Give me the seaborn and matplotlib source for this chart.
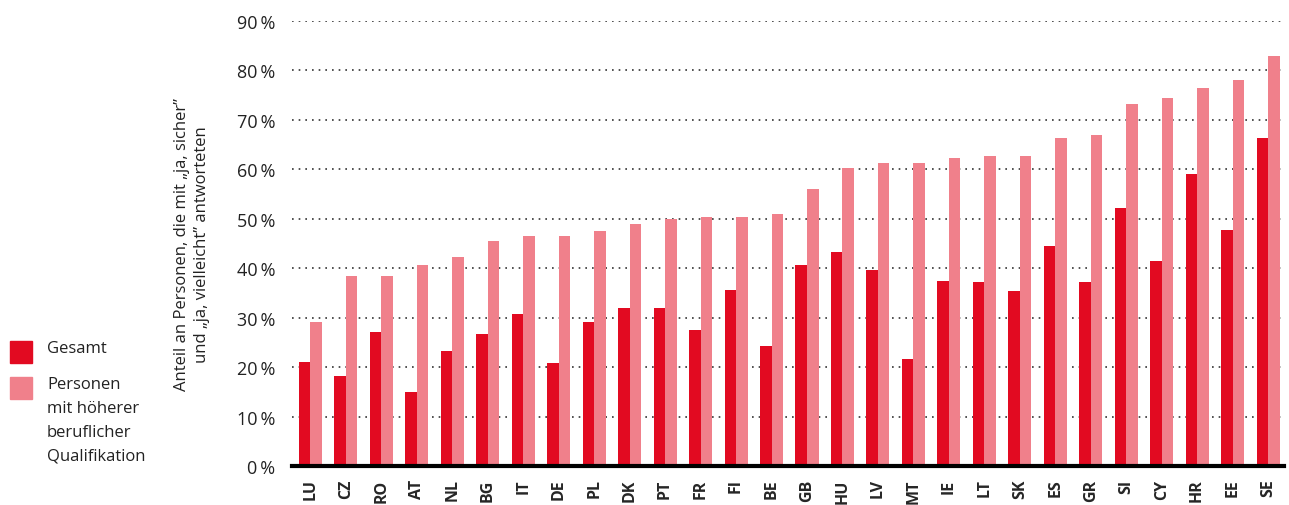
import numpy as np
import pandas as pd
import matplotlib.pyplot as plt
import matplotlib.patches as mpatches
import seaborn as sns

countries = ["LU", "CZ", "RO", "AT", "NL", "BG", "IT", "DE", "PL", "DK", "PT", "FR", "FI", "BE",
             "GB", "HU", "LV", "MT", "IE", "LT", "SK", "ES", "GR", "SI", "CY", "HR", "EE", "SE"]
gesamt = [21.0, 18.2, 27.1, 15.0, 23.3, 26.7, 30.7, 20.8, 29.1, 32.0, 32.0, 27.5, 35.6, 24.3,
          40.7, 43.3, 39.6, 21.6, 37.4, 37.2, 35.4, 44.5, 37.2, 52.2, 41.5, 59.1, 47.7, 66.3]
hoeher = [29.1, 38.4, 38.4, 40.7, 42.3, 45.5, 46.5, 46.5, 47.5, 48.9, 50.0, 50.4, 50.4, 51.0,
          56.0, 60.3, 61.3, 61.3, 62.3, 62.7, 62.7, 66.3, 67.0, 73.2, 74.4, 76.5, 78.1, 82.9]
series = ["Gesamt", "Personen\nmit höherer\nberuflicher\nQualifikation"]
colors = ["#E20A21", "#F0808B"]
yticks = list(range(0, 100, 10))

df = pd.DataFrame({
    "land": countries * 2,
    "wert": gesamt + hoeher,
    "gruppe": [series[0]] * len(countries) + [series[1]] * len(countries),
})

sns.set_style("white")
plt.rcParams["font.family"] = ["Open Sans", "DejaVu Sans"]

fig = plt.figure(figsize=(12.89, 5.06), dpi=100)
ax = fig.add_axes([292 / 1289, 39 / 506, 992 / 1289, 445 / 506])

sns.barplot(data=df, x="land", y="wert", hue="gruppe", palette=colors,
            width=0.65, saturation=1, ax=ax, legend=False, linewidth=0)

ax.set_xlim(-0.52, 27.45)
ax.set_ylim(0, 90)
ax.set_yticks(yticks)
ax.set_yticklabels([f"{t}\u2009%" for t in yticks], fontsize=13, color="#222222")
ax.tick_params(axis="y", length=0, pad=12)
ax.tick_params(axis="x", length=0, pad=9)
for lab in ax.get_xticklabels():
    lab.set_rotation(90)
    lab.set_fontweight("bold")
    lab.set_fontsize(11.5)
    lab.set_va("top")
ax.set_xlabel("")
ax.set_ylabel("")

for t in yticks[1:]:
    ax.axhline(t, color="#333333", linestyle=(0, (1, 3)), linewidth=1.2, zorder=0)

for s in ["top", "right", "left"]:
    ax.spines[s].set_visible(False)
ax.spines["bottom"].set_linewidth(3)
ax.spines["bottom"].set_color("black")
ax.set_axisbelow(True)

fig.text(192 / 1289, 1 - 245 / 506,
         "Anteil an Personen, die mit \u201eja, sicher\u201d\nund \u201eja, vielleicht\u201d antworteten",
         rotation=90, ha="center", va="center", multialignment="center",
         fontsize=12, color="#222222", linespacing=1.3)

# legend
for lab, col, ytop in zip(series, colors, [342, 378]):
    fig.add_artist(mpatches.Rectangle((10 / 1289, 1 - (ytop + 22) / 506), 22 / 1289, 22 / 506,
                                      transform=fig.transFigure, color=col))
    fig.text(47 / 1289, 1 - (ytop - 1) / 506, lab, ha="left", va="top",
             fontsize=12, color="#222222", linespacing=1.65)

fig.savefig("out.png", dpi=100)
